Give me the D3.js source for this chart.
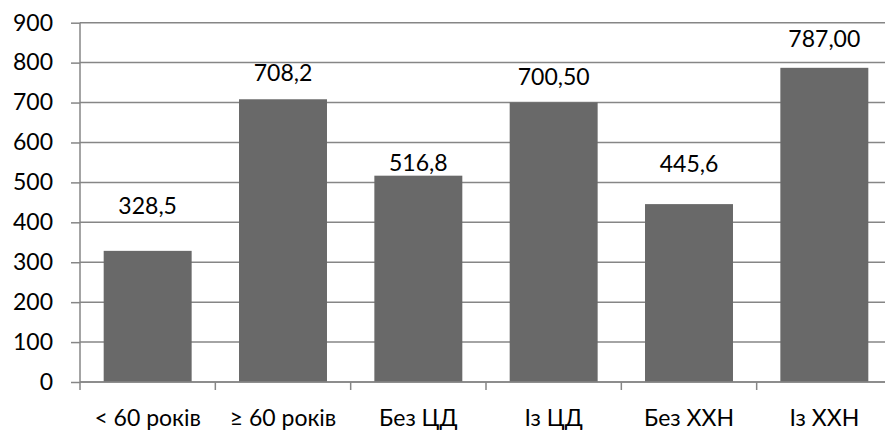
<!DOCTYPE html>
<html>
<head>
<meta charset="utf-8">
<script src="https://cdn.jsdelivr.net/npm/d3@7"></script>
<style>
  html, body { margin: 0; padding: 0; background: #fff; }
  svg { display: block; }
  text { font-family: Lato, "Open Sans", sans-serif; fill: #000; }
</style>
</head>
<body>
<svg id="chart" width="885" height="430"></svg>
<script>
// ---- data ----
const categories = ["< 60 років", "≥ 60 років", "Без ЦД", "Із ЦД", "Без ХХН", "Із ХХН"];
const values = [328.5, 708.2, 516.8, 700.5, 445.6, 787.0];
const valueLabels = ["328,5", "708,2", "516,8", "700,50", "445,6", "787,00"];
const yTicks = [0, 100, 200, 300, 400, 500, 600, 700, 800, 900];

// ---- layout / style (not data) ----
const labelOffsets = [-37, -18, -5, -17.5, -32.5, -21]; // px from bar top to label baseline
const plot = { left: 80, right: 892, top: 22.7, bottom: 382 };
const gridColor = "#868686";
const barColor = "#696969";
const fontSize = 23;

const svg = d3.select("#chart");

const x = d3.scaleBand()
  .domain(categories)
  .range([plot.left, plot.right])
  .paddingInner(0.35)
  .paddingOuter(0.175);

const y = d3.scaleLinear()
  .domain([0, 900])
  .range([plot.bottom, plot.top]);

// gridlines
svg.append("g")
  .selectAll("line")
  .data(yTicks)
  .join("line")
  .attr("x1", plot.left)
  .attr("x2", plot.right)
  .attr("y1", d => y(d))
  .attr("y2", d => y(d))
  .attr("stroke", gridColor)
  .attr("stroke-width", 1.5);

// bars
const data = categories.map((c, i) => ({ c, v: values[i], lab: valueLabels[i], off: labelOffsets[i] }));
svg.append("g")
  .selectAll("rect")
  .data(data)
  .join("rect")
  .attr("x", d => x(d.c))
  .attr("width", x.bandwidth())
  .attr("y", d => y(d.v))
  .attr("height", d => y(0) - y(d.v))
  .attr("fill", barColor);

// value labels
svg.append("g")
  .selectAll("text")
  .data(data)
  .join("text")
  .attr("x", d => x(d.c) + x.bandwidth() / 2)
  .attr("y", d => y(d.v) + d.off)
  .attr("text-anchor", "middle")
  .style("font-size", fontSize + "px")
  .text(d => d.lab);

// y axis
const yAxis = svg.append("g")
  .attr("transform", `translate(${plot.left},0)`)
  .call(d3.axisLeft(y).tickValues(yTicks).tickFormat(d3.format("d")).tickSize(9).tickPadding(18));
yAxis.select(".domain").attr("stroke", gridColor).attr("stroke-width", 1.5)
  .attr("d", `M0,${plot.bottom}V${plot.top}`);
yAxis.selectAll(".tick line").attr("stroke", gridColor).attr("stroke-width", 1.5);
yAxis.selectAll(".tick text").style("font-size", fontSize + "px").style("font-family", "Lato, 'Open Sans', sans-serif").attr("fill", "#000");

// x axis
const xAxis = svg.append("g")
  .attr("transform", `translate(0,${plot.bottom})`)
  .call(d3.axisBottom(x).tickSize(0).tickPadding(0));
xAxis.select(".domain").remove();
xAxis.selectAll(".tick text")
  .attr("y", 44)
  .attr("dy", null)
  .style("font-size", fontSize + "px")
  .style("font-family", "Lato, 'Open Sans', sans-serif")
  .attr("fill", "#000");

// x axis line and boundary ticks
svg.append("line")
  .attr("x1", plot.left).attr("x2", plot.right)
  .attr("y1", plot.bottom).attr("y2", plot.bottom)
  .attr("stroke", gridColor).attr("stroke-width", 1.5);
const step = x.step();
const gap = step - x.bandwidth();
const boundaries = categories.map(c => x(c) - gap / 2).concat([x(categories[categories.length - 1]) + x.bandwidth() + gap / 2]);
svg.append("g")
  .selectAll("line")
  .data(boundaries)
  .join("line")
  .attr("x1", d => d).attr("x2", d => d)
  .attr("y1", plot.bottom).attr("y2", plot.bottom + 8)
  .attr("stroke", gridColor).attr("stroke-width", 1.5);
</script>
</body>
</html>
